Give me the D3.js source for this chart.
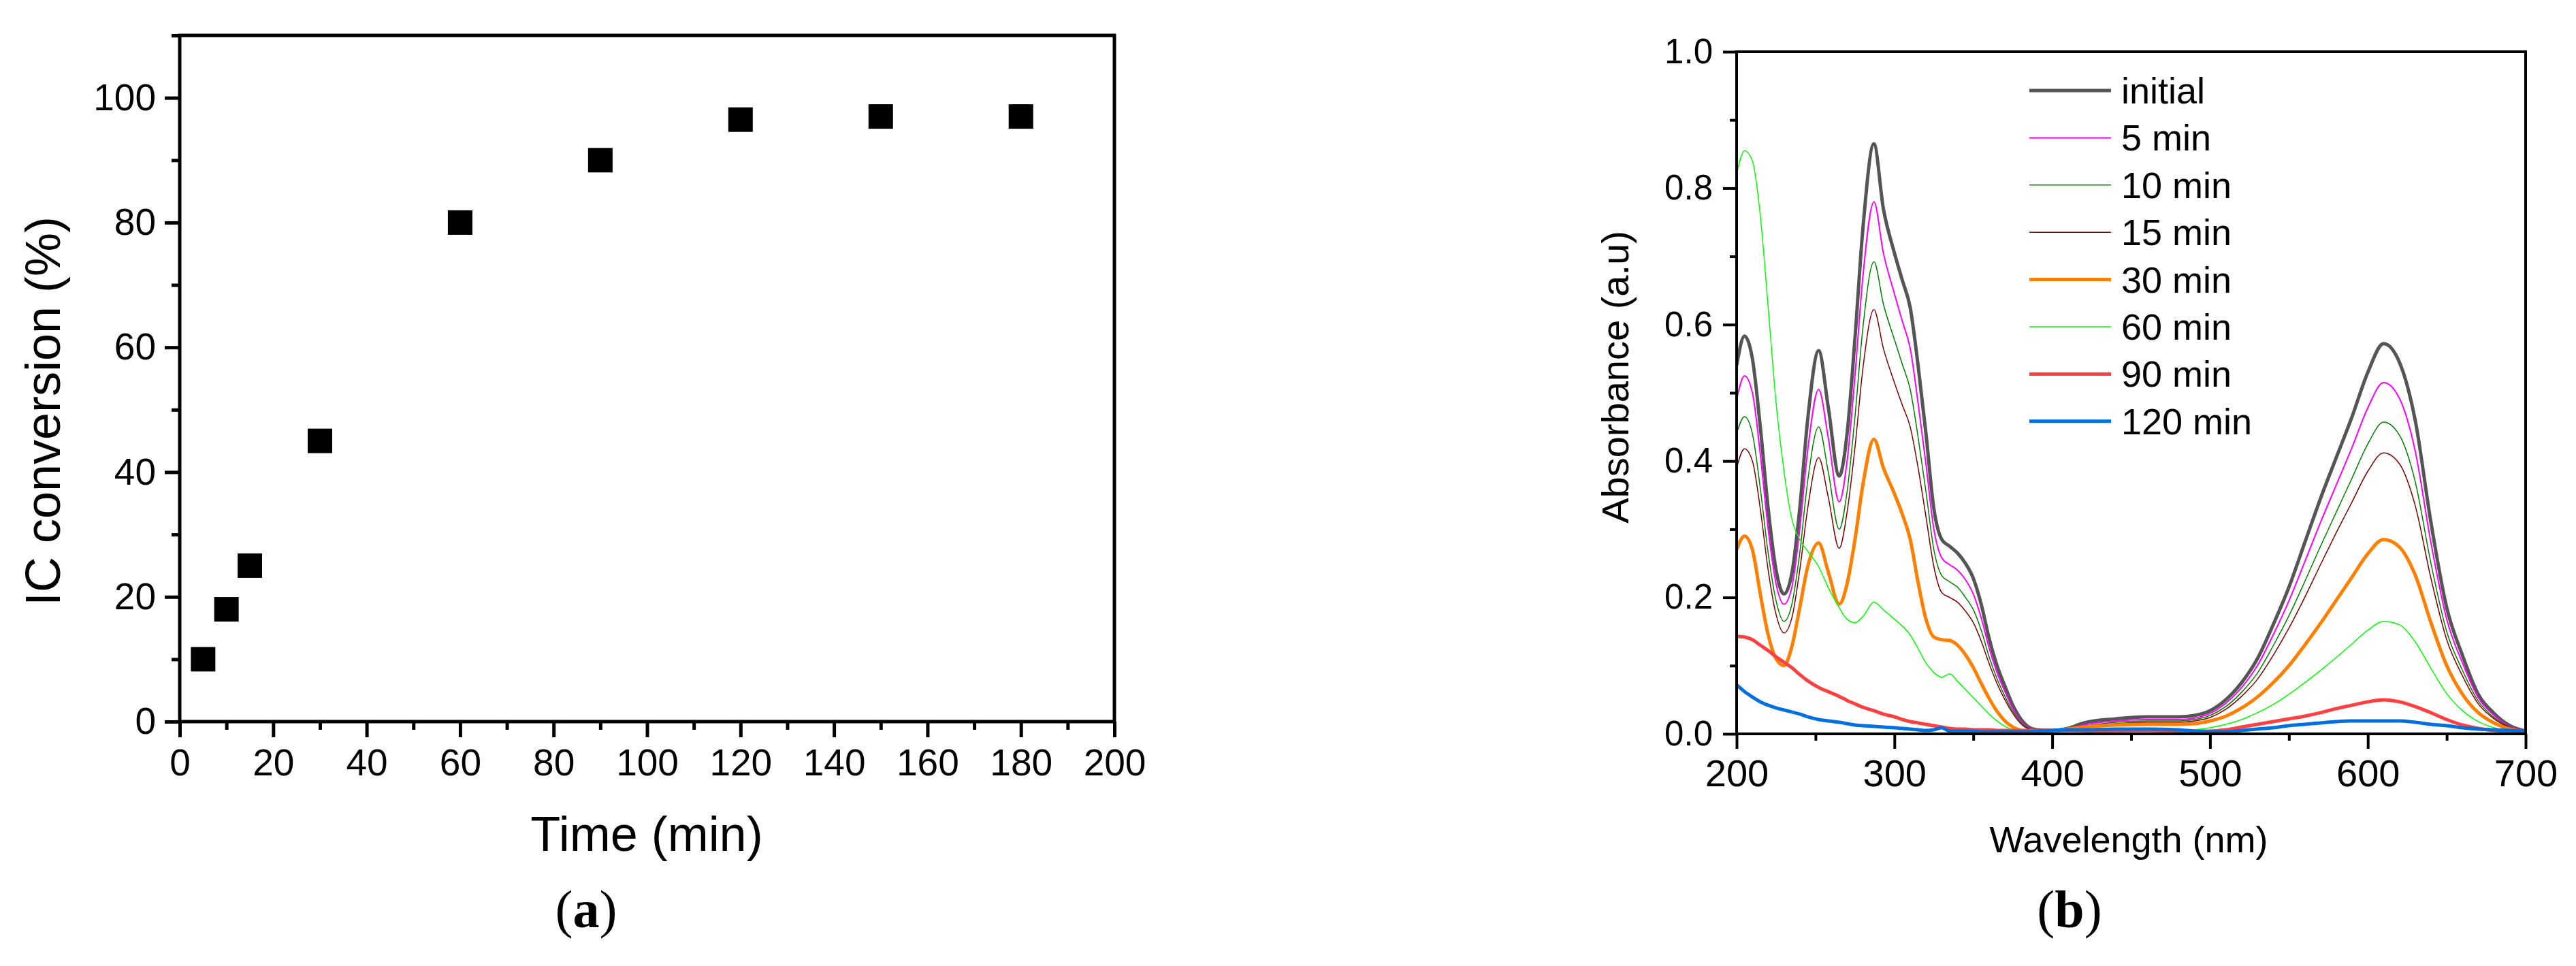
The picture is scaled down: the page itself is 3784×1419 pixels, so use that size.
<!DOCTYPE html>
<html>
<head>
<meta charset="utf-8">
<script src="https://cdn.jsdelivr.net/npm/d3@7"></script>
<style>
  body { margin: 0; background: #fff; }
  svg text { font-family: 'Liberation Sans', Arial, sans-serif; fill: #000; }
</style>
</head>
<body>
<script>
//data (a): IC conversion vs time
var timeMin = [5, 10, 15, 30, 60, 90, 120, 150, 180]
var conversion = [10, 18, 25, 45, 80, 90, 96.5, 97, 97]
var timeTicks = [0, 20, 40, 60, 80, 100, 120, 140, 160, 180, 200]
var timeMinor = [10, 30, 50, 70, 90, 110, 130, 150, 170, 190]
var convTicks = [0, 20, 40, 60, 80, 100]
var convMinor = [10, 30, 50, 70, 90, 110]

//data (b): UV-vis spectra
var wavelength = [200, 205, 210, 215, 220, 225, 230, 235, 240, 245, 252, 258, 265, 270, 275, 280, 287, 293,
    300, 305, 310, 315, 320, 325, 330, 335, 340, 345, 350, 355, 360, 365, 370, 375, 380, 385, 390,
    400, 410, 420, 440, 460, 480, 490, 500, 510, 520, 530, 540, 550, 560, 570, 580, 590, 600, 610,
    620, 630, 640, 650, 660, 670, 680, 690, 700]
var absInitial = [0.54, 0.583, 0.55, 0.45, 0.33, 0.24, 0.205, 0.235, 0.33, 0.46, 0.562, 0.48, 0.378, 0.44, 0.58, 0.74, 0.865, 0.77,
    0.705, 0.665, 0.625, 0.54, 0.44, 0.33, 0.285, 0.275, 0.265, 0.25, 0.228, 0.19, 0.14, 0.1, 0.07, 0.042, 0.022, 0.01, 0.006,
    0.005, 0.008, 0.016, 0.022, 0.025, 0.025, 0.027, 0.034, 0.05, 0.075, 0.11, 0.16, 0.215, 0.28, 0.345, 0.405, 0.465, 0.53, 0.572,
    0.545, 0.46, 0.31, 0.185, 0.115, 0.058, 0.03, 0.012, 0.004]
var abs5 = [0.49, 0.525, 0.5, 0.41, 0.3, 0.22, 0.19, 0.215, 0.3, 0.415, 0.505, 0.435, 0.34, 0.4, 0.525, 0.67, 0.78, 0.705,
    0.645, 0.605, 0.565, 0.485, 0.395, 0.3, 0.258, 0.248, 0.24, 0.226, 0.205, 0.17, 0.126, 0.09, 0.062, 0.037, 0.019, 0.009, 0.005,
    0.004, 0.007, 0.013, 0.019, 0.021, 0.021, 0.023, 0.03, 0.045, 0.068, 0.1, 0.145, 0.195, 0.252, 0.31, 0.365, 0.42, 0.478, 0.515,
    0.492, 0.415, 0.28, 0.168, 0.104, 0.053, 0.027, 0.011, 0.004]
var abs10 = [0.44, 0.465, 0.44, 0.36, 0.265, 0.195, 0.165, 0.19, 0.265, 0.37, 0.45, 0.385, 0.3, 0.355, 0.465, 0.595, 0.692, 0.63,
    0.578, 0.542, 0.505, 0.435, 0.355, 0.27, 0.232, 0.223, 0.215, 0.2, 0.182, 0.152, 0.113, 0.081, 0.055, 0.033, 0.017, 0.008, 0.004,
    0.004, 0.006, 0.011, 0.017, 0.019, 0.019, 0.021, 0.027, 0.04, 0.061, 0.089, 0.129, 0.173, 0.223, 0.275, 0.325, 0.375, 0.425, 0.457,
    0.438, 0.37, 0.25, 0.15, 0.093, 0.048, 0.024, 0.01, 0.004]
var abs15 = [0.39, 0.418, 0.4, 0.33, 0.24, 0.175, 0.148, 0.17, 0.24, 0.33, 0.405, 0.348, 0.272, 0.325, 0.42, 0.535, 0.622, 0.565,
    0.515, 0.482, 0.45, 0.39, 0.318, 0.245, 0.207, 0.2, 0.193, 0.18, 0.163, 0.136, 0.103, 0.074, 0.05, 0.03, 0.015, 0.007, 0.004,
    0.003, 0.005, 0.01, 0.015, 0.017, 0.017, 0.019, 0.024, 0.036, 0.055, 0.08, 0.115, 0.155, 0.2, 0.248, 0.295, 0.34, 0.385, 0.412,
    0.396, 0.335, 0.228, 0.138, 0.085, 0.044, 0.022, 0.009, 0.003]
var abs30 = [0.27, 0.29, 0.27, 0.205, 0.145, 0.11, 0.1, 0.128, 0.185, 0.245, 0.28, 0.238, 0.19, 0.22, 0.285, 0.365, 0.432, 0.39,
    0.352, 0.322, 0.285, 0.222, 0.168, 0.142, 0.138, 0.137, 0.13, 0.116, 0.097, 0.074, 0.052, 0.033, 0.019, 0.01, 0.005, 0.003, 0.003,
    0.004, 0.007, 0.01, 0.013, 0.014, 0.014, 0.015, 0.019, 0.026, 0.038, 0.054, 0.075, 0.1, 0.13, 0.162, 0.196, 0.23, 0.264, 0.285,
    0.274, 0.233, 0.163, 0.1, 0.058, 0.031, 0.016, 0.007, 0.003]
var abs60 = [0.82, 0.855, 0.84, 0.76, 0.625, 0.485, 0.385, 0.315, 0.285, 0.268, 0.245, 0.215, 0.185, 0.168, 0.163, 0.172, 0.193, 0.182,
    0.168, 0.158, 0.145, 0.125, 0.104, 0.09, 0.083, 0.088, 0.077, 0.065, 0.053, 0.041, 0.029, 0.019, 0.011, 0.006, 0.003, 0.002, 0.002,
    0.001, 0.001, 0.002, 0.003, 0.004, 0.005, 0.006, 0.009, 0.014, 0.021, 0.031, 0.043, 0.058, 0.075, 0.093, 0.112, 0.132, 0.152, 0.165,
    0.16, 0.135, 0.096, 0.059, 0.034, 0.018, 0.009, 0.004, 0.002]
var abs90 = [0.143, 0.142, 0.138, 0.13, 0.122, 0.113, 0.105, 0.097, 0.087, 0.078, 0.068, 0.062, 0.055, 0.049, 0.044, 0.039, 0.034, 0.029,
    0.025, 0.021, 0.018, 0.016, 0.014, 0.012, 0.01, 0.008, 0.007, 0.007, 0.006, 0.006, 0.006, 0.005, 0.005, 0.005, 0.005, 0.005, 0.005,
    0.005, 0.005, 0.005, 0.005, 0.005, 0.004, 0.004, 0.004, 0.006, 0.01, 0.014, 0.018, 0.022, 0.026, 0.031, 0.037, 0.042, 0.047, 0.05,
    0.047, 0.04, 0.031, 0.021, 0.013, 0.008, 0.005, 0.004, 0.003]
var abs120 = [0.072, 0.062, 0.054, 0.047, 0.042, 0.038, 0.035, 0.032, 0.029, 0.025, 0.021, 0.019, 0.017, 0.015, 0.013, 0.012, 0.011, 0.01,
    0.009, 0.008, 0.007, 0.006, 0.005, 0.006, 0.009, 0.004, 0.004, 0.004, 0.004, 0.003, 0.003, 0.003, 0.003, 0.003, 0.003, 0.003, 0.004,
    0.005, 0.006, 0.006, 0.007, 0.007, 0.006, 0.004, 0.003, 0.003, 0.005, 0.007, 0.009, 0.012, 0.014, 0.016, 0.018, 0.019, 0.019, 0.019,
    0.019, 0.017, 0.014, 0.012, 0.009, 0.007, 0.006, 0.005, 0.004]
var seriesNames = ['initial', '5 min', '10 min', '15 min', '30 min', '60 min', '90 min', '120 min']
var seriesValues = [absInitial, abs5, abs10, abs15, abs30, abs60, abs90, abs120]
var wlTicks = [200, 300, 400, 500, 600, 700]
var wlMinor = [250, 350, 450, 550, 650]
var absTicks = [0, 0.2, 0.4, 0.6, 0.8, 1.0]
var absMinor = [0.1, 0.3, 0.5, 0.7, 0.9]

//line styles for the spectra
var seriesColors = ['#555555', '#ff00ff', '#008000', '#800000', '#ff8000', '#00ff00', '#ff4040', '#0070e0']
var seriesWidths = [5, 2, 1.5, 1.5, 5, 1.5, 5, 5]

var W = 3784, H = 1419
var svg = d3.select('body').append('svg')
    .attr('width', W)
    .attr('height', H)

//draws one major + minor axis pair and styles it
function drawAxis(g, axisFn, scale, major, minor, majorLen, minorLen, pad, fontSize, strokeW, fmt) {
    var a = g.append('g').call(axisFn(scale).tickValues(minor).tickSize(minorLen).tickFormat('').tickSizeOuter(0))
    a.select('.domain').remove()
    var b = g.append('g').call(axisFn(scale).tickValues(major).tickSize(majorLen).tickPadding(pad).tickFormat(fmt).tickSizeOuter(0))
    b.select('.domain').remove()
    g.selectAll('line').attr('stroke', '#000').attr('stroke-width', strokeW)
    g.selectAll('text').attr('font-size', fontSize).attr('font-family', null)
    return g
}

// ---------- panel (a) ----------
var pa = { left: 264, right: 1637, top: 52, bottom: 1060 }
var xa = d3.scaleLinear().domain([0, 200]).range([pa.left, pa.right])
var ya = d3.scaleLinear().domain([0, 110]).range([pa.bottom, pa.top])

drawAxis(svg.append('g').attr('transform', 'translate(0,' + pa.bottom + ')'),
    d3.axisBottom, xa, timeTicks, timeMinor, 23, 12, 17, 55, 5, d3.format('d'))
drawAxis(svg.append('g').attr('transform', 'translate(' + pa.left + ',0)'),
    d3.axisLeft, ya, convTicks, convMinor, 22, 12, 13, 55, 5, d3.format('d'))

svg.append('rect')
    .attr('x', pa.left).attr('y', pa.top)
    .attr('width', pa.right - pa.left).attr('height', pa.bottom - pa.top)
    .attr('fill', 'none').attr('stroke', '#000').attr('stroke-width', 5)

var sq = 36
svg.append('g').selectAll('rect')
    .data(timeMin)
    .enter().append('rect')
    .attr('x', function(d) { return xa(d) - sq / 2 })
    .attr('y', function(d, i) { return ya(conversion[i]) - sq / 2 })
    .attr('width', sq).attr('height', sq)
    .attr('fill', '#000')

svg.append('text')
    .attr('transform', 'translate(88,604) rotate(-90)')
    .attr('text-anchor', 'middle')
    .attr('font-size', 72)
    .text('IC conversion (%)')
svg.append('text')
    .attr('x', 950).attr('y', 1250)
    .attr('text-anchor', 'middle')
    .attr('font-size', 72)
    .text('Time (min)')

// ---------- panel (b) ----------
var pb = { left: 2551, right: 3710, top: 76, bottom: 1078 }
var xb = d3.scaleLinear().domain([200, 700]).range([pb.left, pb.right])
var yb = d3.scaleLinear().domain([0, 1]).range([pb.bottom, pb.top])

svg.append('clipPath').attr('id', 'clipb')
    .append('rect')
    .attr('x', pb.left).attr('y', pb.top)
    .attr('width', pb.right - pb.left).attr('height', pb.bottom - pb.top)

var line = d3.line()
    .x(function(d, i) { return xb(wavelength[i]) })
    .y(function(d) { return yb(d) })
    .curve(d3.curveMonotoneX)

svg.append('g').attr('clip-path', 'url(#clipb)')
    .selectAll('path')
    .data(seriesValues)
    .enter().append('path')
    .attr('d', line)
    .attr('fill', 'none')
    .attr('stroke', function(d, i) { return seriesColors[i] })
    .attr('stroke-width', function(d, i) { return seriesWidths[i] })
    .attr('stroke-linejoin', 'round')

drawAxis(svg.append('g').attr('transform', 'translate(0,' + pb.bottom + ')'),
    d3.axisBottom, xb, wlTicks, wlMinor, 22, 10, 15, 56, 4, d3.format('d'))
drawAxis(svg.append('g').attr('transform', 'translate(' + pb.left + ',0)'),
    d3.axisLeft, yb, absTicks, absMinor, 20, 10, 15, 51, 4, d3.format('.1f'))

svg.append('rect')
    .attr('x', pb.left).attr('y', pb.top)
    .attr('width', pb.right - pb.left).attr('height', pb.bottom - pb.top)
    .attr('fill', 'none').attr('stroke', '#000').attr('stroke-width', 4)

//legend
var lg = svg.append('g').selectAll('g')
    .data(seriesNames)
    .enter().append('g')
    .attr('transform', function(d, i) { return 'translate(0,' + (133 + i * 69.4) + ')' })
lg.append('line')
    .attr('x1', 2981).attr('x2', 3101)
    .attr('stroke', function(d, i) { return seriesColors[i] })
    .attr('stroke-width', function(d, i) { return seriesWidths[i] })
lg.append('text')
    .attr('x', 3116).attr('y', 19)
    .attr('font-size', 54)
    .text(function(d) { return d })

svg.append('text')
    .attr('transform', 'translate(2392,554) rotate(-90)')
    .attr('text-anchor', 'middle')
    .attr('font-size', 56)
    .text('Absorbance (a.u)')
svg.append('text')
    .attr('x', 3127).attr('y', 1252)
    .attr('text-anchor', 'middle')
    .attr('font-size', 54)
    .text('Wavelength (nm)')

//panel letters
function panelLabel(x, letter) {
    var t = svg.append('text')
        .attr('x', x).attr('y', 1362)
        .attr('text-anchor', 'middle')
        .attr('font-size', 78)
        .style('font-family', "'Liberation Serif', 'Times New Roman', serif")
    t.append('tspan').text('(')
    t.append('tspan').attr('font-weight', 'bold').text(letter)
    t.append('tspan').text(')')
}
panelLabel(861, 'a')
panelLabel(3040, 'b')
</script>
</body>
</html>
